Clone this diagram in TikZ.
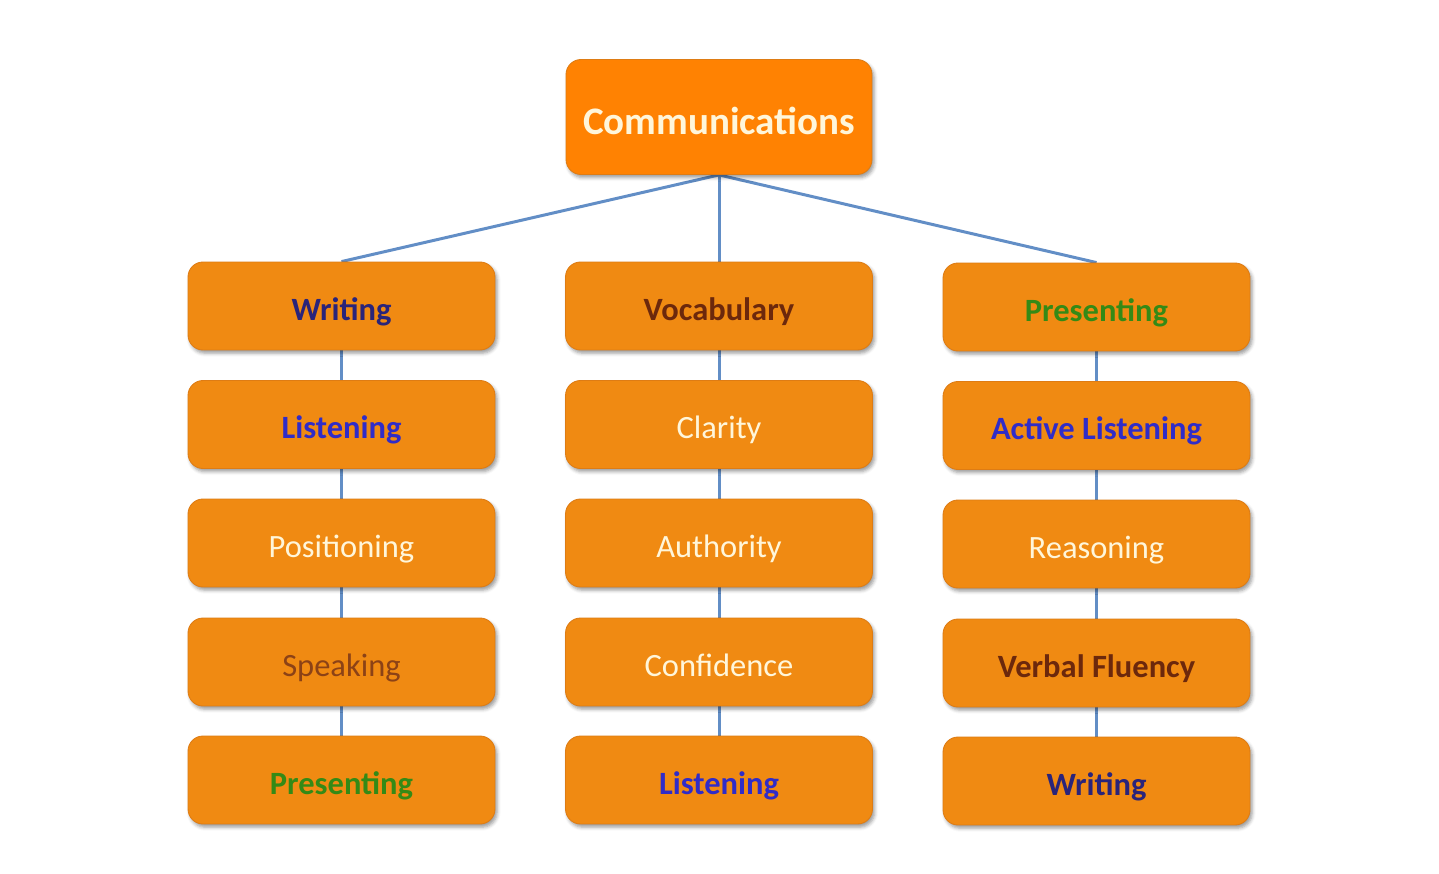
\documentclass[tikz,border=0pt]{standalone}
\usepackage{fontspec}
\setmainfont{Carlito}
\usetikzlibrary{shadows.blur,backgrounds}

\definecolor{toporange}{RGB}{255,130,2}
\definecolor{boxorange}{RGB}{240,138,18}
\definecolor{boxedge}{RGB}{222,124,20}
\definecolor{linkblue}{RGB}{98,142,198}
\definecolor{navytext}{RGB}{42,36,122}
\definecolor{bluetext}{RGB}{48,44,200}
\definecolor{browntext}{RGB}{108,40,12}
\definecolor{rusttext}{RGB}{140,66,22}
\definecolor{greentext}{RGB}{52,138,22}
\definecolor{creamtext}{RGB}{255,246,218}

\newcommand{\skillfont}{\fontsize{18.5}{22}\selectfont}

\tikzset{
	x=0.02cm, y=-0.02cm,
	skillbox/.style={draw=boxedge, line width=0.5pt, fill=boxorange, rounded corners=0.3cm,
		minimum width=6.14cm, minimum height=1.76cm, inner sep=0pt, font=\skillfont,
		text height=20pt, text depth=4pt,
		blur shadow={shadow xshift=1.2pt, shadow yshift=-1.8pt, shadow blur radius=2pt, shadow opacity=40}},
	topbox/.style={skillbox, fill=toporange, minimum width=6.12cm, minimum height=2.3cm,
		text=creamtext, font=\fontsize{22.2}{26}\selectfont\bfseries, text height=25pt, text depth=5pt},
	navy/.style={text=navytext, font=\skillfont\bfseries},
	blue/.style={text=bluetext, font=\skillfont\bfseries},
	brown/.style={text=browntext, font=\skillfont\bfseries},
	rust/.style={text=rusttext},
	green/.style={text=greentext, font=\skillfont\bfseries},
	cream/.style={text=creamtext},
	link/.style={draw=linkblue, line width=1.7pt},
}

\begin{document}
\begin{tikzpicture}
	\useasboundingbox (0, 0) rectangle (1439, 874);

	\node [topbox] (comm) at (719, 117) {Communications};

	% left column
	\node [skillbox, navy] (l1) at (341.5, 306) {Writing};
	\node [skillbox, blue] (l2) at (341.5, 424.5) {Listening};
	\node [skillbox, cream] (l3) at (341.5, 543) {Positioning};
	\node [skillbox, rust] (l4) at (341.5, 662) {Speaking};
	\node [skillbox, green] (l5) at (341.5, 780) {Presenting};

	% middle column
	\node [skillbox, brown] (c1) at (719, 306) {Vocabulary};
	\node [skillbox, cream] (c2) at (719, 424.5) {Clarity};
	\node [skillbox, cream] (c3) at (719, 543) {Authority};
	\node [skillbox, cream] (c4) at (719, 662) {Confidence};
	\node [skillbox, blue] (c5) at (719, 780) {Listening};

	% right column
	\node [skillbox, green] (r1) at (1096.5, 307) {Presenting};
	\node [skillbox, blue] (r2) at (1096.5, 425.5) {Active Listening};
	\node [skillbox, cream] (r3) at (1096.5, 544) {Reasoning};
	\node [skillbox, brown] (r4) at (1096.5, 663) {Verbal Fluency};
	\node [skillbox, navy] (r5) at (1096.5, 781) {Writing};

	\begin{scope}[on background layer]
		\foreach \c in {l, c, r} {
			\draw [link] (comm.south) -- (\c1.north);
			\foreach \i/\j in {1/2, 2/3, 3/4, 4/5} {
				\draw [link] (\c\i.south) -- (\c\j.north);
			}
		}
	\end{scope}
\end{tikzpicture}
\end{document}
